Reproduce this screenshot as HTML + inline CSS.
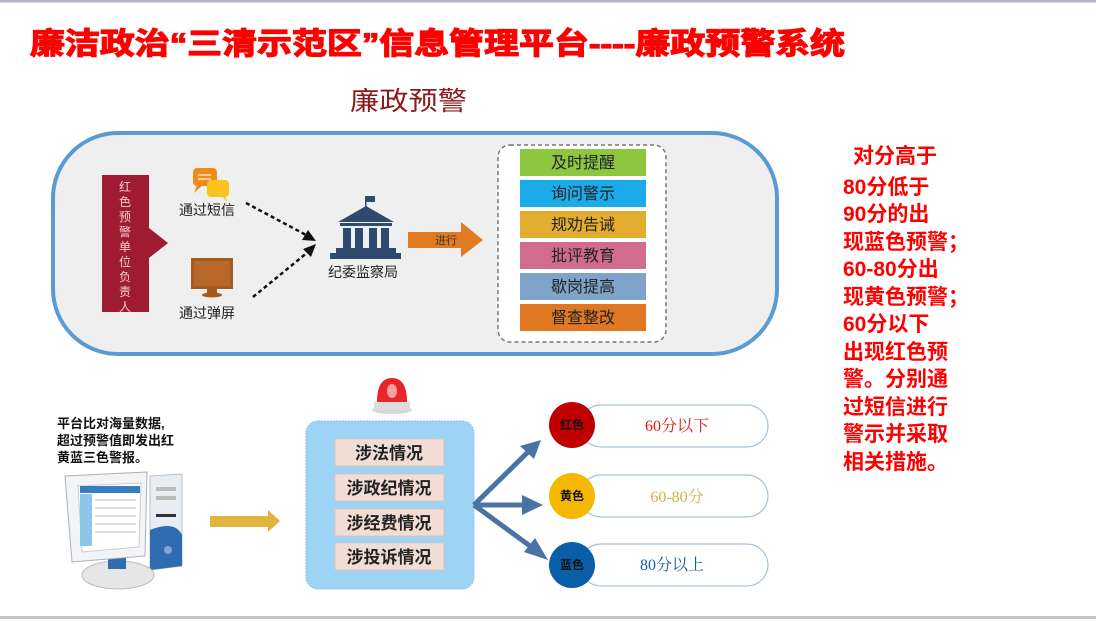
<!DOCTYPE html>
<html><head><meta charset="utf-8"><style>
html,body{margin:0;padding:0;background:#fff;}
svg{display:block;}
text{font-family:"Liberation Sans","Noto Sans CJK SC",sans-serif;}
</style></head><body>
<svg width="1096" height="623" viewBox="0 0 1096 623" xmlns="http://www.w3.org/2000/svg">
<rect x="0" y="0" width="1096" height="623" fill="#fff"/>
<rect x="0" y="0" width="1096" height="2.5" fill="#b4b4c4"/>
<rect x="0" y="616" width="1096" height="3" fill="#c4c4cc"/>

<text x="30" y="54" font-size="30" font-weight="bold" fill="#ff0000" textLength="815" lengthAdjust="spacingAndGlyphs" stroke="#ff0000" stroke-width="1.2">廉洁政治“三清示范区”信息管理平台----廉政预警系统</text>
<text x="350" y="110" font-size="26" fill="#8b1a1a" textLength="117" lengthAdjust="spacingAndGlyphs">廉政预警</text>

<rect x="53" y="133" width="724" height="221" rx="65" fill="#efefef" stroke="#5b9bd5" stroke-width="4"/>

<rect x="102" y="175" width="47" height="137" fill="#9e1b32"/>
<polygon points="149,228 168,243 149,258" fill="#9e1b32"/>
<g font-size="12" fill="#f3d0d0" text-anchor="middle">
<text x="125" y="191">红</text><text x="125" y="206">色</text><text x="125" y="221">预</text><text x="125" y="236">警</text><text x="125" y="251">单</text><text x="125" y="266">位</text><text x="125" y="281">负</text><text x="125" y="296">责</text><text x="125" y="311">人</text>
</g>

<rect x="193" y="168" width="24" height="18" rx="4" fill="#f08a1c"/>
<polygon points="197,185 194,193 203,185" fill="#f08a1c"/>
<rect x="207" y="180" width="22" height="17" rx="4" fill="#f7c31c"/>
<polygon points="222,196 227,202 225,196" fill="#f7c31c"/>
<line x1="198" y1="175" x2="211" y2="175" stroke="#fde2c0" stroke-width="1.5"/>
<line x1="198" y1="179" x2="211" y2="179" stroke="#fde2c0" stroke-width="1.5"/>
<text x="179" y="215" font-size="14" fill="#222">通过短信</text>

<rect x="191" y="258" width="42" height="31" fill="#a65a1e"/>
<rect x="194" y="261" width="36" height="25" fill="#b8682a"/>
<rect x="207" y="289" width="10" height="4" fill="#a65a1e"/>
<ellipse cx="212" cy="295" rx="10" ry="2.5" fill="#a65a1e"/>
<text x="179" y="318" font-size="14" fill="#222">通过弹屏</text>

<line x1="246" y1="203" x2="308" y2="236" stroke="#111" stroke-width="2.5" stroke-dasharray="4,3"/>
<polygon points="316,241 302,240 308,230" fill="#111"/>
<line x1="253" y1="297" x2="308" y2="252" stroke="#111" stroke-width="2.5" stroke-dasharray="4,3"/>
<polygon points="316,244 311,257 303,249" fill="#111"/>

<g fill="#2e4a6e">
<rect x="365" y="196" width="1.5" height="12"/>
<rect x="366" y="196" width="9" height="6"/>
<polygon points="366,206 338,222 394,222"/>
<rect x="340" y="223" width="52" height="3"/>
<rect x="343" y="228" width="8" height="20"/><rect x="355" y="228" width="8" height="20"/><rect x="369" y="228" width="8" height="20"/><rect x="381" y="228" width="8" height="20"/>
<rect x="336" y="248" width="60" height="5"/>
<rect x="330" y="253" width="71" height="6"/>
</g>
<text x="328" y="277" font-size="14" fill="#222">纪委监察局</text>

<polygon points="408,232 461,232 461,222 483,240 461,257 461,248 408,248" fill="#e07b22"/>
<text x="446" y="244" font-size="11" fill="#333" text-anchor="middle">进行</text>

<rect x="498" y="145" width="168" height="197" rx="12" fill="#fff" stroke="#777" stroke-width="1.5" stroke-dasharray="4,3"/>
<g font-size="16" fill="#222" text-anchor="middle">
<rect x="520" y="149" width="126" height="27" fill="#8dc63f"/><text x="583" y="168">及时提醒</text>
<rect x="520" y="180" width="126" height="27" fill="#1aabe8"/><text x="583" y="199">询问警示</text>
<rect x="520" y="211" width="126" height="27" fill="#e3ad2f"/><text x="583" y="230">规劝告诫</text>
<rect x="520" y="242" width="126" height="27" fill="#d06d8e"/><text x="583" y="261">批评教育</text>
<rect x="520" y="273" width="126" height="27" fill="#7fa3cb"/><text x="583" y="292">歇岗提高</text>
<rect x="520" y="304" width="126" height="27" fill="#e07722"/><text x="583" y="323">督查整改</text>
</g>

<g font-size="21" font-weight="bold" fill="#ff0000">
<text x="853" y="163">对分高于</text>
<text x="843" y="194">80分低于</text>
<text x="843" y="221">90分的出</text>
<text x="843" y="249">现蓝色预警；</text>
<text x="843" y="276">60-80分出</text>
<text x="843" y="304">现黄色预警；</text>
<text x="843" y="331">60分以下</text>
<text x="843" y="359">出现红色预</text>
<text x="843" y="386">警。分别通</text>
<text x="843" y="414">过短信进行</text>
<text x="843" y="441">警示并采取</text>
<text x="843" y="469">相关措施。</text>
</g>

<g font-size="13" font-weight="bold" fill="#111">
<text x="57" y="428">平台比对海量数据,</text>
<text x="57" y="445">超过预警值即发出红</text>
<text x="57" y="462">黄蓝三色警报。</text>
</g>

<polygon points="150,476 182,474 182,566 150,570" fill="#e9edf2" stroke="#b8c0c8"/>
<rect x="156" y="487" width="20" height="4" fill="#bbb"/>
<rect x="156" y="496" width="20" height="4" fill="#bbb"/>
<rect x="156" y="514" width="20" height="3" fill="#333"/>
<path d="M150 530 Q175 520 182 535 L182 566 L150 570 Z" fill="#2f6db0"/>
<circle cx="168" cy="550" r="4" fill="#7fa6d8"/>
<ellipse cx="118" cy="575" rx="36" ry="14" fill="#e6e6e6" stroke="#bbb"/>
<rect x="108" y="555" width="18" height="14" fill="#2f6db0"/>
<polygon points="65,476 147,472 145,556 72,562" fill="#f2f4f6" stroke="#aab2ba"/>
<polygon points="78,486 141,483 139,547 82,552" fill="#fff" stroke="#ccc"/>
<rect x="80" y="486" width="60" height="7" fill="#3a7cc2"/>
<rect x="80" y="494" width="12" height="52" fill="#8cc4ec"/>
<g stroke="#bbb" stroke-width="1"><line x1="95" y1="500" x2="136" y2="500"/><line x1="95" y1="508" x2="136" y2="508"/><line x1="95" y1="516" x2="136" y2="516"/><line x1="95" y1="524" x2="136" y2="524"/><line x1="95" y1="532" x2="136" y2="532"/></g>

<polygon points="210,516 268,516 268,510 280,521 268,532 268,527 210,527" fill="#e3b33f"/>

<ellipse cx="392" cy="410" rx="20" ry="4" fill="#d8d8d8"/>
<rect x="374" y="402" width="36" height="8" fill="#ddd"/>
<path d="M377 402 Q377 378 392 378 Q407 378 407 402 Z" fill="#e8262a"/>
<ellipse cx="392" cy="391" rx="5" ry="7" fill="#f8a0a0"/>

<rect x="306" y="421" width="168" height="168" rx="12" fill="#9dd3f5" stroke="#8cc0e6" stroke-width="1" stroke-dasharray="2,1"/>
<g font-size="17" font-weight="bold" fill="#222" text-anchor="middle">
<rect x="335" y="439" width="109" height="27" fill="#f2ddd5" stroke="#d9c2ba"/><text x="389" y="459">涉法情况</text>
<rect x="335" y="474" width="109" height="27" fill="#f2ddd5" stroke="#d9c2ba"/><text x="389" y="494">涉政纪情况</text>
<rect x="335" y="509" width="109" height="27" fill="#f2ddd5" stroke="#d9c2ba"/><text x="389" y="529">涉经费情况</text>
<rect x="335" y="543" width="109" height="27" fill="#f2ddd5" stroke="#d9c2ba"/><text x="389" y="563">涉投诉情况</text>
</g>

<g stroke="#4a73a4" stroke-width="5" fill="none">
<line x1="474" y1="505" x2="530" y2="450"/>
<line x1="474" y1="505" x2="530" y2="505"/>
<line x1="474" y1="505" x2="530" y2="546"/>
</g>
<g fill="#4a73a4">
<polygon points="541,440 520,446 534,459"/>
<polygon points="543,505 522,495 522,515"/>
<polygon points="548,560 535,538 524,552"/>
</g>

<g fill="#fff" stroke="#a9c2d8" stroke-width="1.2">
<rect x="580" y="405" width="188" height="42" rx="21"/>
<rect x="580" y="475" width="188" height="42" rx="21"/>
<rect x="580" y="544" width="188" height="42" rx="21"/>
</g>
<circle cx="572" cy="425" r="23" fill="#c00000"/>
<circle cx="572" cy="496" r="23" fill="#f5b800"/>
<circle cx="572" cy="565" r="23" fill="#0a5ea8"/>
<g font-size="12" font-weight="bold" fill="#111" text-anchor="middle">
<text x="572" y="429">红色</text><text x="572" y="500">黄色</text><text x="572" y="569">蓝色</text>
</g>
<g font-size="16" text-anchor="middle">
<text x="677" y="431" fill="#e01a1a" style="font-family:'Liberation Serif','Noto Serif CJK SC',serif">60分以下</text>
<text x="677" y="502" fill="#d4b04a" style="font-family:'Liberation Serif','Noto Serif CJK SC',serif">60-80分</text>
<text x="672" y="570" fill="#1a5ea8" style="font-family:'Liberation Serif','Noto Serif CJK SC',serif">80分以上</text>
</g>
</svg>
</body></html>
